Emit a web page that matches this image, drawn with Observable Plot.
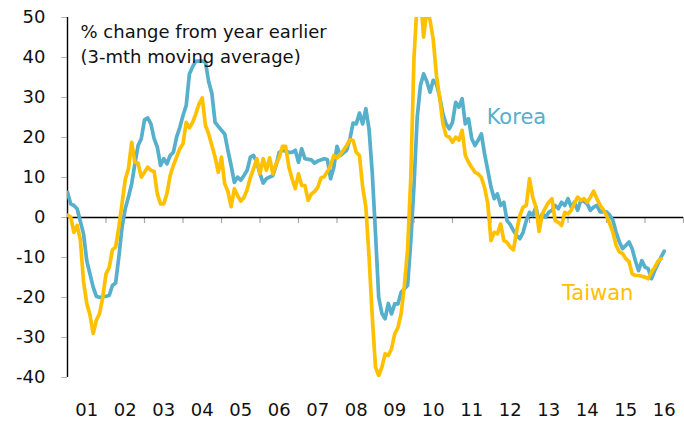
<!DOCTYPE html>
<html><head><meta charset="utf-8">
<script src="https://cdn.jsdelivr.net/npm/d3@7"></script>
<script src="https://cdn.jsdelivr.net/npm/@observablehq/plot@0.6"></script>
<style>html,body{margin:0;padding:0;background:#fff}svg{display:block}</style>
</head><body><div id="chart"></div>
<script>
const startYear = 2001;
const yearLabels = ["01","02","03","04","05","06","07","08","09","10","11","12","13","14","15","16"];
const yTicks = [-40,-30,-20,-10,0,10,20,30,40,50];
const titleText = "% change from year earlier\n(3-mth moving average)";
const seriesNames = ["Korea","Taiwan"];
const seriesColors = ["#56AFCB","#FFC000"];

// month index from Jan 2001, value (% y/y, 3-mth MA)
const koreaMonths = [0,1,2,3,5,6,8,9,10,12,13,14,15,16,17,18,19,20,21,22,23,24,25,26,27,28,29,30,31,32,33,34,35,36,37,38,39,40,42,43,44,45,46,47,48,49,50,51,52,53,54,55,56,57,58,59,60,61,62,64,65,66,67,69,70,71,72,73,74,76,77,78,80,81,82,83,84,85,87,88,89,90,91,92,93,94,95,96,97,98,99,100,101,102,103,104,106,107,108,109,110,111,112,113,114,115,116,117,118,119,120,121,122,123,124,125,126,127,128,129,130,131,132,133,134,135,136,137,138,139,140,141,142,143,144,145,146,147,148,149,150,151,152,153,154,155,156,157,158,159,160,161,162,163,164,165,166,168,169,170,171,172,173,174,175,176,177,178,179,180,181,182,183,185,186];
const koreaValues = [6.3,3.4,3.0,2.2,-4.1,-10.8,-17.4,-19.7,-20.0,-19.7,-19.5,-17.0,-16.4,-9.9,-2.4,2.2,5.1,8.4,13.4,18.0,19.7,24.4,24.9,23.4,19.7,17.6,13.0,14.7,13.4,15.5,16.3,20.1,22.5,25.5,28.0,35.9,37.7,39.1,39.1,38.8,34.0,31.0,23.8,22.8,21.8,20.9,16.8,13.0,8.8,10.1,9.3,10.5,11.8,15.1,15.5,13.8,10.9,8.6,9.7,10.5,13.0,16.3,16.8,16.3,16.3,16.8,13.8,17.2,14.7,14.4,13.6,14.1,14.7,14.5,9.7,12.5,17.8,15.5,16.8,19.5,23.6,23.4,26.1,23.4,27.2,22.0,11.0,-4.0,-20.0,-24.0,-25.3,-21.5,-24.1,-21.6,-21.6,-18.7,-17.0,-6.0,8.0,25.0,33.0,35.9,34.0,31.3,34.3,33.4,30.1,25.9,23.4,22.2,23.8,28.8,27.6,29.7,23.4,24.7,19.7,18.0,19.3,20.9,15.9,11.8,7.6,4.7,5.9,3.0,3.8,-0.8,-1.8,-3.3,-4.5,-5.3,-3.7,-0.8,1.3,0.5,2.6,-1.2,0.9,0.1,1.3,1.8,3.0,2.2,3.8,3.0,4.7,2.6,3.8,1.8,4.3,4.0,3.4,1.8,2.6,3.0,1.4,1.4,0.6,-0.7,-3.7,-6.1,-7.8,-7.0,-6.1,-7.8,-10.8,-13.3,-10.8,-12.4,-12.8,-15.3,-13.3,-9.9,-8.4];

const taiwanMonths = [0,1,2,3,4,5,6,7,8,9,10,11,12,13,14,15,16,17,18,19,20,21,22,23,24,25,26,27,28,29,30,31,32,33,34,35,36,37,38,39,40,41,42,43,44,45,46,47,48,49,50,51,52,53,54,55,56,57,58,59,60,61,62,63,64,65,66,67,68,69,70,71,72,73,74,75,76,77,78,79,80,81,82,83,84,85,86,87,88,89,90,91,92,93,94,95,96,97,98,99,100,101,102,103,104,105,106,107,108,109,110,111,112,113,114,115,116,117,118,119,120,121,122,123,124,125,126,127,128,129,130,131,132,133,134,135,136,137,138,139,140,141,142,143,144,145,146,147,148,149,150,151,152,153,154,155,156,157,158,159,160,161,162,163,164,165,166,167,168,169,170,171,172,173,174,175,176,177,178,179,180,181,182,183,184,185];
const taiwanValues = [0.6,0.1,-3.7,-2.0,-5.5,-16.0,-21.5,-24.3,-29.0,-25.7,-24.0,-19.9,-14.1,-12.5,-8.1,-7.4,-2.4,3.5,9.5,12.2,18.8,13.8,13.6,10.1,11.3,12.6,11.8,11.5,5.9,3.4,3.4,6.0,10.5,13.0,15.1,17.2,18.4,23.8,22.4,23.8,25.9,28.4,29.9,23.0,20.9,18.0,15.1,11.3,15.1,8.4,6.5,2.7,7.2,5.5,4.1,5.0,7.0,10.0,12.2,14.7,11.0,14.7,11.8,14.9,10.9,13.4,15.0,17.8,17.8,12.6,9.7,7.2,10.9,8.0,8.0,4.3,5.9,6.5,7.5,9.9,10.2,11.5,13.0,15.5,14.9,15.8,16.8,18.0,19.4,19.3,16.3,15.5,7.6,2.6,-10.0,-24.9,-37.4,-39.5,-37.4,-34.1,-34.5,-32.8,-29.1,-27.5,-24.0,-17.0,-8.0,10.0,40.0,54.0,56.0,45.1,52.0,49.3,44.5,35.5,30.0,23.5,20.5,20.1,18.8,20.1,19.3,21.8,15.5,13.8,12.5,11.3,10.9,10.0,7.5,3.5,-5.8,-3.7,-4.1,-1.6,-5.8,-6.2,-7.4,-8.1,-3.3,0.5,2.6,3.0,9.7,5.1,2.6,-3.5,0.9,2.5,3.8,4.7,-0.8,-1.2,-2.0,1.3,0.9,1.8,3.5,5.1,4.3,4.7,3.8,5.1,6.6,4.7,3.1,2.0,0.5,-1.5,-3.7,-7.0,-8.6,-9.0,-10.3,-11.0,-14.1,-14.5,-14.5,-14.7,-14.9,-15.3,-13.7,-12.5,-11.0,-10.3];

const rows = [
  ...koreaMonths.map((m, i) => ({series: "Korea", t: startYear + m / 12, v: koreaValues[i]})),
  ...taiwanMonths.map((m, i) => ({series: "Taiwan", t: startYear + m / 12, v: taiwanValues[i]}))
];
const yearStarts = yearLabels.map((d, i) => startYear + i);
const tickYears = yearStarts.slice(1).concat([startYear + yearLabels.length]);

const font = "DejaVu Sans";
const chart = Plot.plot({
  width: 684, height: 421,
  marginLeft: 67, marginRight: 1, marginTop: 17, marginBottom: 44,
  x: {domain: [startYear, startYear + yearLabels.length], axis: null},
  y: {domain: [-40, 50], axis: null},
  color: {domain: seriesNames, range: seriesColors},
  style: {fontFamily: font, fontSize: "18px", color: "#111", background: "white"},
  marks: [
    Plot.axisY(yTicks, {anchor: "left", tickSize: 6, tickPadding: 16, stroke: "#b5b5b5", fill: "#111", label: null, tickFormat: d => String(d), fontSize: 18}),
    Plot.ruleX(tickYears, {y1: 0, y2: -1.5, stroke: "#a8a8a8", strokeWidth: 1.2}),
    Plot.ruleY([0], {stroke: "#000", strokeWidth: 1.4}),
    Plot.ruleX([startYear], {stroke: "#000", strokeWidth: 1.4}),
    Plot.lineY(rows.filter(d => d.series === "Korea"), {x: "t", y: "v", stroke: "series", strokeWidth: 3.7, strokeLinejoin: "round", clip: true}),
    Plot.lineY(rows.filter(d => d.series === "Taiwan"), {x: "t", y: "v", stroke: "series", strokeWidth: 3.7, strokeLinejoin: "round", clip: true}),
    Plot.text(yearLabels, {x: (d, i) => yearStarts[i] + 0.5, y: -40, dy: 33, text: d => d, textAnchor: "middle", lineAnchor: "middle", fontSize: 18, fill: "#111"}),
    Plot.text([titleText], {frameAnchor: "top-left", dx: 13, dy: 3, lineAnchor: "top", textAnchor: "start", lineHeight: 1.39, fontSize: 18, fill: "#111"}),
    Plot.text([seriesNames[0]], {x: 2012.66, y: 25, text: d => d, fill: seriesColors[0], fontSize: 21, textAnchor: "middle", lineAnchor: "middle"}),
    Plot.text([seriesNames[1]], {x: 2014.77, y: -19, text: d => d, fill: seriesColors[1], fontSize: 21, textAnchor: "middle", lineAnchor: "middle"})
  ]
});
document.getElementById("chart").appendChild(chart);
</script>
</body></html>
